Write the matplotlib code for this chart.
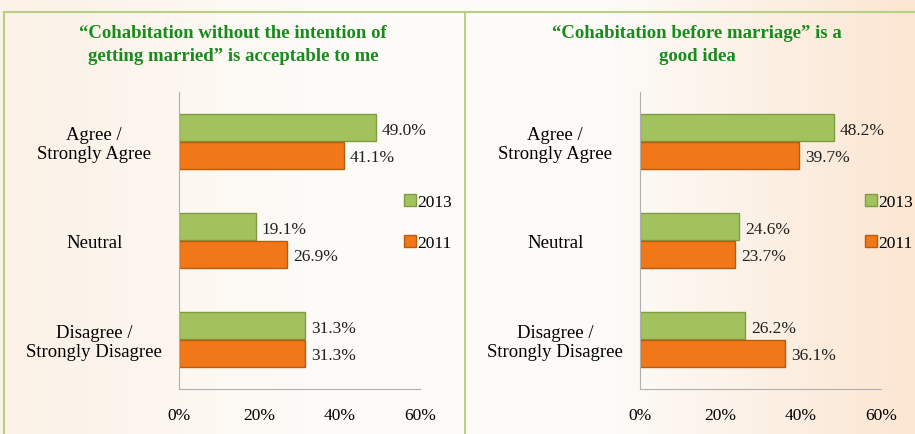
import numpy as np
import matplotlib.pyplot as plt
from matplotlib.patches import Rectangle
from matplotlib.colors import LinearSegmentedColormap

categories = ['Agree /\nStrongly Agree', 'Neutral', 'Disagree /\nStrongly Disagree']
left_2013 = [49.0, 19.1, 31.3]
left_2011 = [41.1, 26.9, 31.3]
right_2013 = [48.2, 24.6, 26.2]
right_2011 = [39.7, 23.7, 36.1]
titles = ['\u201cCohabitation without the intention of\ngetting married\u201d is acceptable to me',
          '\u201cCohabitation before marriage\u201d is a\ngood idea']
xticks = [0, 20, 40, 60]

plt.rcParams['font.family'] = ['Liberation Serif', 'DejaVu Serif']

W, H = 915, 435
fig = plt.figure(figsize=(W / 100, H / 100), dpi=100)

# background gradient
bg = fig.add_axes([0, 0, 1, 1], zorder=-10)
cmap = LinearSegmentedColormap.from_list('bg', ['#FBF1E6', '#FDFBF7', '#FDFBF8', '#FBE6D2'])
bg.imshow(np.linspace(0, 1, 256).reshape(1, -1), cmap=cmap, aspect='auto', extent=[0, 1, 0, 1])
bg.set_xlim(0, 1)
bg.set_ylim(0, 1)
bg.axis('off')

# panel borders
border = '#B8D084'
bg.add_patch(Rectangle((4 / W, -0.1), 461 / W, 1.1 - 13 / H, fill=False, ec=border, lw=1.5))
bg.plot([465 / W, 1], [1 - 13 / H, 1 - 13 / H], color=border, lw=1.5)

green, green_edge = '#A2C25E', '#7F9C42'
orange, orange_edge = '#F07818', '#B95A0E'
fs = 12.5


def panel(x0, title_x, v2013, v2011, title):
    ax = fig.add_axes([x0 / W, 45 / H, 241 / W, 297 / H])
    ax.set_facecolor('none')
    y = np.arange(len(categories)) + 0.5
    h = 0.27
    b1 = ax.barh(y - h / 2 - 0.005, v2013, height=h, color=green, edgecolor=green_edge, lw=1, label='2013')
    b2 = ax.barh(y + h / 2 + 0.005, v2011, height=h, color=orange, edgecolor=orange_edge, lw=1, label='2011')
    for bars, vals in ((b1, v2013), (b2, v2011)):
        for bar, v in zip(bars, vals):
            ax.text(v + 1.5, bar.get_y() + bar.get_height() / 2 + 0.02, f'{v:.1f}%',
                    va='center', ha='left', fontsize=fs, color='#222222')
    ax.set_xlim(0, 60)
    ax.set_ylim(3, 0)
    ax.set_xticks(xticks)
    ax.set_xticklabels([f'{t}%' for t in xticks], fontsize=fs)
    ax.set_yticks(y)
    ax.set_yticklabels(categories, fontsize=13.5, linespacing=1.15, ha='center')
    ax.tick_params(length=0)
    ax.tick_params(axis='x', pad=13)
    ax.tick_params(axis='y', pad=61)
    for s in ('top', 'right'):
        ax.spines[s].set_visible(False)
    for s in ('left', 'bottom'):
        ax.spines[s].set_color('#B0B0B0')
    ax.legend(handles=[b1, b2], loc='upper left', bbox_to_anchor=((x0 + 216) / W, 1 - 186 / H),
              bbox_transform=fig.transFigure, frameon=False, fontsize=fs,
              handlelength=0.7, handleheight=0.7, handletextpad=0.1, labelspacing=1.45,
              borderpad=0)
    fig.text(title_x / W, 1 - 45 / H, title, ha='center', va='center', fontsize=13.5,
             fontweight='bold', color='#1A8A1E', linespacing=1.42)


panel(179, 233, left_2013, left_2011, titles[0])
panel(640, 697, right_2013, right_2011, titles[1])

fig.savefig('out.png', dpi=100)
